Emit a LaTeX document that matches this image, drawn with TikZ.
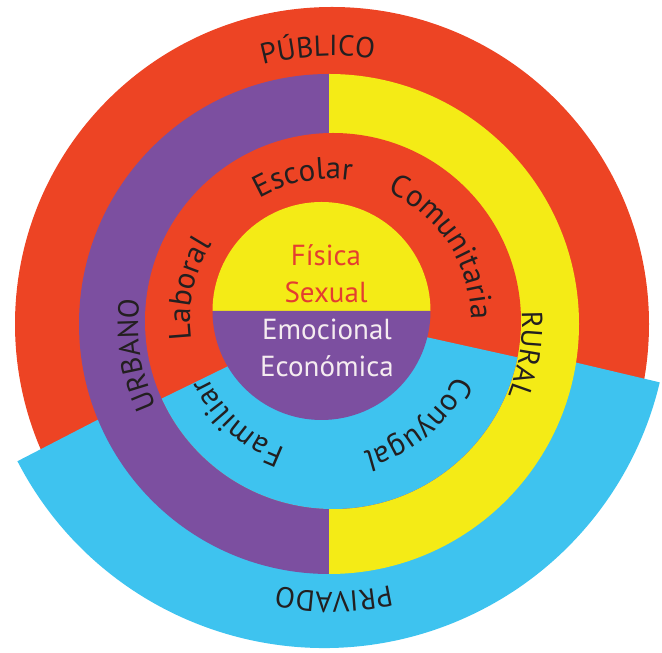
\documentclass[tikz,border=0pt]{standalone}
\usepackage{fontspec}
\setmainfont{PT Sans}
\usetikzlibrary{decorations.text}
\definecolor{cred}{RGB}{237,68,36}
\definecolor{cpurple}{RGB}{124,79,160}
\definecolor{cyellow}{RGB}{244,235,22}
\definecolor{cblue}{RGB}{62,195,239}
\definecolor{ctxtred}{RGB}{228,62,48}
\definecolor{ctxtwhite}{RGB}{245,236,240}
\definecolor{cink}{RGB}{35,31,32}
\newcommand\ringfont{\fontsize{29}{31}\selectfont\color{cink}}
\newcommand\midfont{\fontsize{31}{33}\selectfont\color{cink}}
\newcommand\corefont{\fontsize{29}{31}\selectfont}
\tikzset{
  ringlabel/.style={decorate, decoration={text along path, text align=center, text={|\ringfont|#1}}},
  midlabel/.style={decorate, decoration={text along path, text align=center, text={|\midfont|#1}}},
  corelabel/.style={inner sep=0pt, anchor=base, font=\corefont}
}
\begin{document}
\begin{tikzpicture}[x=1pt,y=1pt]
\useasboundingbox (0,0) rectangle (662,653);
% outer ring
\fill[cred] (332,329) circle (317);
\fill[cblue] (324,350) -- ++(207.3:345) arc (207.3:346.7:345) -- cycle;
% urban / rural ring
\fill[cpurple] (329,329) ++(90:250) arc (90:270:250) -- cycle;
\fill[cyellow] (329,329) ++(-90:250) arc (-90:90:250) -- cycle;
% middle ring
\fill[cred] (333,332) circle (188);
\begin{scope}
  \clip (333,332) circle (188);
  \fill[cblue] (331,337) -- ++(206:220) arc (206:347.5:220) -- cycle;
\end{scope}
% core
\fill[cyellow] (321.5,342) ++(0:109) arc (0:180:109) -- cycle;
\fill[cpurple] (321.5,342) ++(180:109) arc (180:360:109) -- cycle;
% ring labels
\path[ringlabel={PÚBLICO}] (332,329) ++(133:268) arc (133:53:268);
\path[ringlabel={PRIVADO}] (332,329) ++(310.4:268) arc (310.4:230.4:268);
\path[ringlabel={URBANO}] (330,329) ++(229:192) arc (229:149:192);
\path[ringlabel={RURAL}] (330,329) ++(31:192) arc (31:-49:192);
\path[midlabel={Escolar}] (331,333) ++(146:141) arc (146:56:141);
\path[midlabel={Comunitaria}] (331,333) ++(95:140) arc (95:-29:140);
\path[midlabel={Laboral}] (331,333) ++(212:141) arc (212:123:141);
\path[midlabel={Familiar}] (331,333) ++(272:136) arc (272:183:136);
\path[midlabel={Conyugal}] (331,333) ++(-5:136) arc (-5:-95:136);
% core labels
\node[corelabel, text=ctxtred] (fisica) at (326,387) {Física};
\node[corelabel, text=ctxtred] (sexual) at (326,350) {Sexual};
\node[corelabel, text=ctxtwhite] (emocional) at (327,313) {Emocional};
\node[corelabel, text=ctxtwhite] (economica) at (327,276) {Económica};
\end{tikzpicture}
\end{document}
